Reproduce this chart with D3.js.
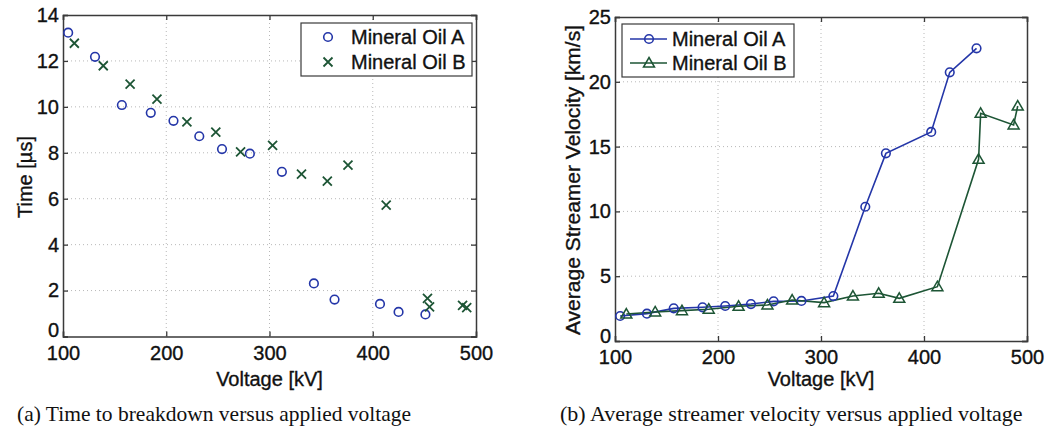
<!DOCTYPE html>
<html>
<head>
<meta charset="utf-8">
<script src="https://cdn.jsdelivr.net/npm/d3@7"></script>
<style>
  body { margin: 0; background: #fff; }
  svg { display: block; }
  .tick text { font-family: "Liberation Sans", Arial, sans-serif; font-size: 20px; fill: #111; stroke: #111; stroke-width: 0.35px; }
  .lab { stroke: #111; stroke-width: 0.35px; }
</style>
</head>
<body>
<svg width="1047" height="430"></svg>
<script>
// data
const voltA = [105, 131, 157, 185, 207, 232, 254, 281, 312, 343, 363, 407, 425, 451]
const timeA = [13.23, 12.18, 10.08, 9.74, 9.39, 8.72, 8.16, 7.96, 7.17, 2.31, 1.61, 1.42, 1.07, 0.96]
const velA = [1.93, 2.11, 2.52, 2.60, 2.70, 2.85, 3.06, 3.09, 3.47, 10.36, 14.48, 16.13, 20.73, 22.58]

const voltB = [111, 139, 165, 191, 220, 248, 272, 303, 331, 356, 376, 413, 453, 455, 487, 491]
const timeB = [12.77, 11.79, 10.99, 10.34, 9.35, 8.90, 8.04, 8.32, 7.07, 6.77, 7.46, 5.72, 1.66, 1.29, 1.36, 1.26]
const velB = [2.08, 2.24, 2.34, 2.45, 2.68, 2.78, 3.16, 2.96, 3.47, 3.68, 3.29, 4.19, 14.02, 17.57, 16.67, 18.13]

const seriesNames = ['Mineral Oil A', 'Mineral Oil B']
const xTicks = [100, 200, 300, 400, 500]
const timeTicks = [0, 2, 4, 6, 8, 10, 12, 14]
const velTicks = [0, 5, 10, 15, 20, 25]

const blue = '#2436a8'
const green = '#1d5535'
const font = '"Liberation Sans", Arial, sans-serif'

const svg = d3.select('svg')

// 建一个 MATLAB 风格的坐标框
function panel(opt) {
  const x = d3.scaleLinear().domain([100, 500]).range([opt.left, opt.right])
  const y = d3.scaleLinear().domain(opt.yDomain).range([opt.bottom, opt.top])
  const g = svg.append('g')

  // grid
  g.append('g').selectAll('line').data(xTicks.slice(1, -1)).enter().append('line')
    .attr('x1', d => x(d)).attr('x2', d => x(d)).attr('y1', opt.top).attr('y2', opt.bottom)
    .attr('stroke', '#b8b8b8').attr('stroke-dasharray', '1,3')
  g.append('g').selectAll('line').data(opt.yTicks.slice(1, -1)).enter().append('line')
    .attr('x1', opt.left).attr('x2', opt.right).attr('y1', d => y(d)).attr('y2', d => y(d))
    .attr('stroke', '#b8b8b8').attr('stroke-dasharray', '1,3')

  // axes
  const xa = g.append('g').attr('transform', `translate(0,${opt.bottom})`)
    .call(d3.axisBottom(x).tickValues(xTicks).tickSize(-5).tickPadding(opt.xPad))
  xa.selectAll('text').attr('dy', '0.72em')
  g.append('g').attr('transform', `translate(0,${opt.top})`)
    .call(d3.axisTop(x).tickValues(xTicks).tickSize(-5).tickFormat(''))
  const ya = g.append('g').attr('transform', `translate(${opt.left},0)`)
    .call(d3.axisLeft(y).tickValues(opt.yTicks).tickSize(-5).tickPadding(4))
  // MATLAB 的 0 标签略微抬高
  ya.selectAll('.tick text').filter(d => d === 0).attr('dy', opt.zeroDy)
  g.append('g').attr('transform', `translate(${opt.right},0)`)
    .call(d3.axisRight(y).tickValues(opt.yTicks).tickSize(-5).tickFormat(''))
  g.selectAll('.domain, .tick line').attr('stroke', '#3a3a3a').attr('stroke-width', 1.3)
  g.selectAll('.domain').attr('stroke-width', 1.5)

  // labels
  g.append('text').attr('class', 'lab').attr('x', (opt.left + opt.right) / 2).attr('y', 386)
    .attr('text-anchor', 'middle').attr('font-family', font).attr('font-size', 20).attr('fill', '#111')
    .text('Voltage [kV]')
  g.append('text').attr('class', 'lab').attr('transform', `translate(${opt.ylabX},${opt.ylabY}) rotate(-90)`)
    .attr('text-anchor', 'middle').attr('font-family', font).attr('font-size', opt.ylabSize).attr('fill', '#111')
    .text(opt.ylabel)
  return {x, y, g}
}

function circle(sel, color) {
  sel.append('circle').attr('r', 4.3).attr('fill', 'none').attr('stroke', color).attr('stroke-width', 1.6)
}
function cross(sel, color) {
  sel.append('path').attr('d', 'M-4.5,-4.5L4.5,4.5M-4.5,4.5L4.5,-4.5')
    .attr('stroke', color).attr('stroke-width', 1.8).attr('fill', 'none')
}
function triangle(sel, color) {
  sel.append('path').attr('d', 'M0,-5.5L5.5,4L-5.5,4Z')
    .attr('fill', 'none').attr('stroke', color).attr('stroke-width', 1.5)
}

function drawMarkers(p, xs, ys, shape, color) {
  const pts = xs.map((v, i) => [v, ys[i]])
  p.g.append('g').selectAll('g').data(pts).enter().append('g')
    .attr('transform', d => `translate(${p.x(d[0])},${p.y(d[1])})`)
    .each(function () { shape(d3.select(this), color) })
}

function drawLine(p, xs, ys, color) {
  const line = d3.line().x(d => p.x(d[0])).y(d => p.y(d[1]))
  p.g.append('path').datum(xs.map((v, i) => [v, ys[i]]))
    .attr('d', line).attr('fill', 'none').attr('stroke', color).attr('stroke-width', 1.6)
}

// (a) time to breakdown
const pa = panel({left: 63, right: 476, top: 15, bottom: 336.5, yDomain: [0, 14], yTicks: timeTicks,
  xPad: 9, zeroDy: '0em', ylabel: 'Time [\u00b5s]', ylabX: 32, ylabY: 177, ylabSize: 20})
drawMarkers(pa, voltA, timeA, circle, blue)
drawMarkers(pa, voltB, timeB, cross, green)

// legend a
const la = pa.g.append('g')
la.append('rect').attr('x', 301).attr('y', 23).attr('width', 171).attr('height', 53)
  .attr('fill', '#fff').attr('stroke', '#3a3a3a').attr('stroke-width', 1.2)
circle(la.append('g').attr('transform', 'translate(328,37)'), blue)
cross(la.append('g').attr('transform', 'translate(328,62)'), green)
la.selectAll('text.lg').data(seriesNames).enter().append('text').attr('class', 'lab')
  .attr('x', 351).attr('y', (d, i) => 44 + i * 25)
  .attr('font-family', font).attr('font-size', 20).attr('fill', '#111').text(d => d)

// (b) streamer velocity
const pb = panel({left: 615, right: 1027, top: 17, bottom: 341, yDomain: [0, 25], yTicks: velTicks,
  xPad: 9, zeroDy: '0.05em', ylabel: 'Average Streamer Velocity [km/s]', ylabX: 580, ylabY: 180, ylabSize: 21})
drawLine(pb, voltA, velA, blue)
drawLine(pb, voltB, velB, green)
drawMarkers(pb, voltA, velA, circle, blue)
drawMarkers(pb, voltB, velB, triangle, green)

// legend b
const lb = pb.g.append('g')
lb.append('rect').attr('x', 622).attr('y', 24).attr('width', 172).attr('height', 53)
  .attr('fill', '#fff').attr('stroke', '#3a3a3a').attr('stroke-width', 1.2)
;[blue, green].forEach((c, i) => {
  const yy = 39 + i * 24
  lb.append('line').attr('x1', 630).attr('x2', 667).attr('y1', yy).attr('y2', yy)
    .attr('stroke', c).attr('stroke-width', 1.6)
  ;(i === 0 ? circle : triangle)(lb.append('g').attr('transform', `translate(649,${yy})`), c)
})
lb.selectAll('text.lg').data(seriesNames).enter().append('text').attr('class', 'lab')
  .attr('x', 672).attr('y', (d, i) => 46 + i * 24)
  .attr('font-family', font).attr('font-size', 20).attr('fill', '#111').text(d => d)

// captions
svg.append('text').attr('x', 17).attr('y', 421)
  .attr('font-family', '"Liberation Serif", serif').attr('font-size', 21.5).attr('fill', '#111')
  .text('(a) Time to breakdown versus applied voltage')
svg.append('text').attr('x', 560).attr('y', 421)
  .attr('font-family', '"Liberation Serif", serif').attr('font-size', 22).attr('fill', '#111')
  .text('(b) Average streamer velocity versus applied voltage')
</script>
</body>
</html>
